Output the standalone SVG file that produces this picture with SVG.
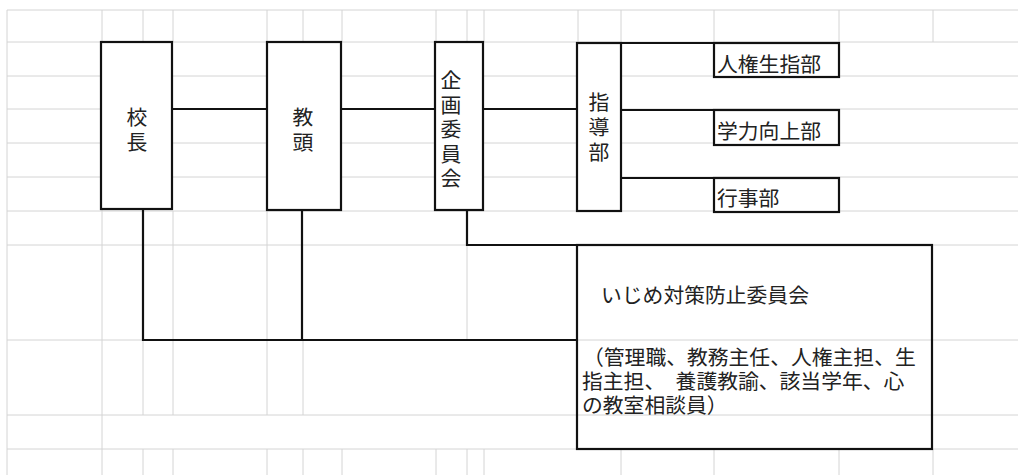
<svg xmlns="http://www.w3.org/2000/svg" width="1018" height="475" viewBox="0 0 1018 475">
<style>
.grid line{stroke:#d4d4d4;stroke-width:1}
.box{fill:#fff;stroke:#111;stroke-width:2.2}
.open{fill:none;stroke:#111;stroke-width:2.2}
.conn{fill:none;stroke:#111;stroke-width:2.2}
text{font-family:"Liberation Sans","Noto Sans CJK JP","Noto Sans CJK SC",sans-serif;font-size:20.8px;fill:#222}
.v{text-anchor:middle}
</style>
<rect width="1018" height="475" fill="#fff"/>
<g class="grid">
<line x1="7" y1="10" x2="1018" y2="10"/>
<line x1="7" y1="42" x2="1018" y2="42"/>
<line x1="7" y1="76" x2="1018" y2="76"/>
<line x1="7" y1="109" x2="1018" y2="109"/>
<line x1="7" y1="143" x2="1018" y2="143"/>
<line x1="7" y1="177" x2="1018" y2="177"/>
<line x1="7" y1="211" x2="1018" y2="211"/>
<line x1="7" y1="245" x2="1018" y2="245"/>
<line x1="7" y1="340" x2="1018" y2="340"/>
<line x1="7" y1="415" x2="1018" y2="415"/>
<line x1="7" y1="449" x2="1018" y2="449"/>
<line x1="7" y1="10" x2="7" y2="475"/>
<line x1="102" y1="10" x2="102" y2="475"/>
<line x1="143" y1="10" x2="143" y2="42"/>
<line x1="173" y1="10" x2="173" y2="42"/>
<line x1="267" y1="10" x2="267" y2="42"/>
<line x1="303" y1="10" x2="303" y2="42"/>
<line x1="342" y1="10" x2="342" y2="42"/>
<line x1="436" y1="10" x2="436" y2="42"/>
<line x1="467" y1="10" x2="467" y2="42"/>
<line x1="484" y1="10" x2="484" y2="42"/>
<line x1="578" y1="10" x2="578" y2="42"/>
<line x1="621" y1="10" x2="621" y2="42"/>
<line x1="714" y1="10" x2="714" y2="42"/>
<line x1="839" y1="10" x2="839" y2="42"/>
<line x1="933" y1="10" x2="933" y2="42"/>
<line x1="173" y1="211" x2="173" y2="415"/>
<line x1="267" y1="211" x2="267" y2="415"/>
<line x1="467" y1="245" x2="467" y2="340"/>
<line x1="143" y1="340" x2="143" y2="415"/>
<line x1="303" y1="340" x2="303" y2="415"/>
<line x1="143" y1="449" x2="143" y2="475"/>
<line x1="173" y1="449" x2="173" y2="475"/>
<line x1="267" y1="449" x2="267" y2="475"/>
<line x1="303" y1="449" x2="303" y2="475"/>
<line x1="342" y1="449" x2="342" y2="475"/>
<line x1="436" y1="449" x2="436" y2="475"/>
<line x1="467" y1="449" x2="467" y2="475"/>
<line x1="484" y1="449" x2="484" y2="475"/>
<line x1="621" y1="449" x2="621" y2="475"/>
<line x1="714" y1="449" x2="714" y2="475"/>
<line x1="839" y1="449" x2="839" y2="475"/>
<line x1="933" y1="449" x2="933" y2="475"/>
</g>
<g id="connectors">
<line class="conn" x1="172" y1="109" x2="267" y2="109"/>
<line class="conn" x1="341" y1="109" x2="435" y2="109"/>
<line class="conn" x1="483" y1="109" x2="577" y2="109"/>
<line class="conn" x1="621" y1="43" x2="714" y2="43"/>
<line class="conn" x1="621" y1="110" x2="714" y2="110"/>
<line class="conn" x1="621" y1="178" x2="714" y2="178"/>
<polyline class="conn" points="467,210 467,245 577,245"/>
<polyline class="conn" points="143,209 143,340 577,340"/>
<line class="conn" x1="302" y1="210" x2="302" y2="340"/>
</g>
<g id="kocho">
<rect class="box" x="101" y="42" width="71" height="167"/>
<text class="v"><tspan x="137" y="125">校</tspan><tspan x="137" dy="25">長</tspan></text>
</g>
<g id="kyoto">
<rect class="box" x="267" y="42" width="74" height="168"/>
<text class="v"><tspan x="303" y="125">教</tspan><tspan x="303" dy="25">頭</tspan></text>
</g>
<g id="kikaku">
<rect class="box" x="435" y="42" width="48" height="168"/>
<text class="v"><tspan x="451" y="88">企</tspan><tspan x="451" dy="24.5">画</tspan><tspan x="451" dy="24.5">委</tspan><tspan x="451" dy="24.5">員</tspan><tspan x="451" dy="24.5">会</tspan></text>
</g>
<g id="shido">
<rect class="box" x="577" y="43" width="44" height="168"/>
<text class="v"><tspan x="599" y="110">指</tspan><tspan x="599" dy="25">導</tspan><tspan x="599" dy="25">部</tspan></text>
</g>
<g id="jinken">
<rect class="box" x="714" y="43" width="125" height="34"/>
<text x="717" y="72">人権生指部</text>
</g>
<g id="gakuryoku">
<rect class="box" x="714" y="110" width="125" height="35"/>
<text x="717" y="139">学力向上部</text>
</g>
<g id="gyoji">
<rect class="box" x="714" y="178" width="125" height="34"/>
<text x="717" y="206">行事部</text>
</g>
<g id="ijime">
<rect class="open" x="577" y="245" width="355" height="204"/>
<text x="601" y="303">いじめ対策防止委員会</text>
<text x="583"><tspan x="583" y="365">（管理職、教務主任、人権主担、生</tspan><tspan x="582" dy="24">指主担、　養護教諭、該当学年、心</tspan><tspan x="582" dy="24">の教室相談員）</tspan></text>
</g>
</svg>
